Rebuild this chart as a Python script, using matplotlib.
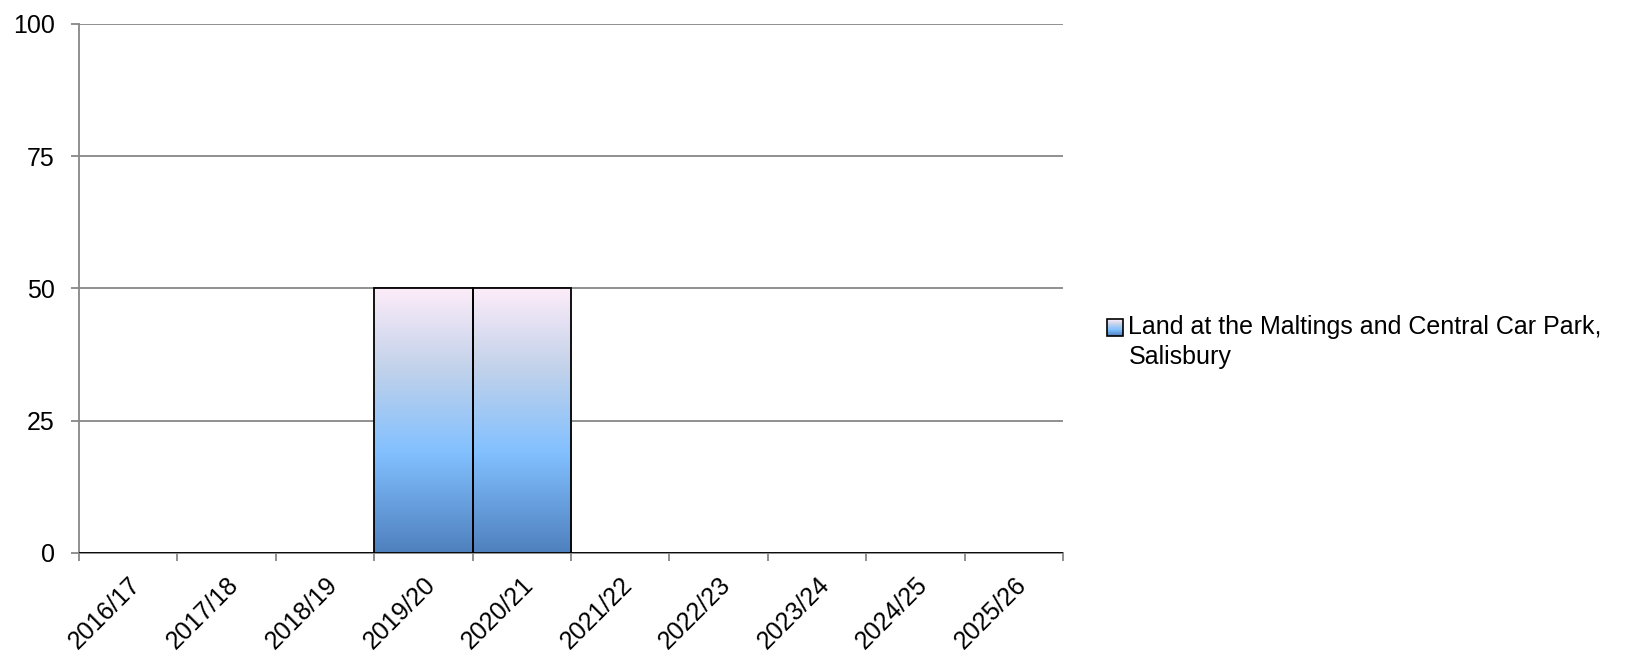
import numpy as np
import matplotlib
matplotlib.use("Agg")
import matplotlib.pyplot as plt
from matplotlib.colors import LinearSegmentedColormap
from matplotlib.patches import Rectangle
from matplotlib.legend_handler import HandlerBase

plt.rcParams['font.family'] = ['Liberation Sans', 'DejaVu Sans']

# Data
years = ["2016/17", "2017/18", "2018/19", "2019/20", "2020/21",
         "2021/22", "2022/23", "2023/24", "2024/25", "2025/26"]
dwellings = [0, 0, 0, 50, 50, 0, 0, 0, 0, 0]
series_name = "Land at the Maltings and Central Car Park,\nSalisbury"
y_ticks = [0, 25, 50, 75, 100]

# Vertical gradient: dark blue at the base, sky blue, fading to pale pink at the top
grad_cmap = LinearSegmentedColormap.from_list(
    "bar_grad",
    [(0.0, "#4f80be"), (0.38, "#82c0ff"), (0.7, "#c2d2ea"), (1.0, "#fdecf9")])

grid_col = "#878787"
DPI = 100
FS = 18
LINESPACING = 1.3
fig = plt.figure(figsize=(16.33, 6.57), dpi=DPI)
ax = fig.add_axes([0.0484, 0.1583, 0.6025, 0.8052])

x = np.arange(len(years))
bars = ax.bar(x, dwellings, width=1.0, facecolor="none", edgecolor="black",
              linewidth=1.3, zorder=3)

grad = np.linspace(0, 1, 256).reshape(-1, 1)
for rect, v in zip(bars, dwellings):
    if v <= 0:
        continue
    x0 = rect.get_x()
    w = rect.get_width()
    im = ax.imshow(grad, cmap=grad_cmap, origin="lower", aspect="auto",
                   extent=(x0, x0 + w, 0, v), zorder=2, interpolation="bilinear")
    im.set_clip_path(rect)

ax.set_xlim(-0.5, len(years) - 0.5)
ax.set_ylim(0, 100)
ax.set_yticks(y_ticks)
ax.set_yticklabels([str(t) for t in y_ticks], fontsize=FS)
ax.yaxis.grid(True, color=grid_col, linewidth=1.3, zorder=0)
ax.set_axisbelow(True)

ax.set_xticks(x)
ax.set_xticklabels(years, fontsize=FS, rotation=45, ha="right", va="top",
                   rotation_mode="anchor")
ax.set_xticks(np.arange(len(years) + 1) - 0.5, minor=True)
ax.tick_params(axis="x", which="major", length=0, pad=14)
ax.tick_params(axis="x", which="minor", length=5.5, width=1.3, color=grid_col,
               direction="out")
ax.tick_params(axis="y", length=5.5, width=1.3, color=grid_col, pad=12)

for side in ("top", "right"):
    ax.spines[side].set_visible(False)
for side in ("left", "bottom"):
    ax.spines[side].set_color(grid_col)
    ax.spines[side].set_linewidth(1.3)


class GradientSquareHandler(HandlerBase):
    """Small gradient-filled square, level with the first line of the label."""

    def create_artists(self, legend, orig_handle, xdescent, ydescent,
                       width, height, fontsize, trans):
        s = height * 0.95
        x0 = -xdescent + width - s
        y0 = -ydescent + (height - s) / 2 + fontsize * 0.62
        n = 24
        arts = []
        for i in range(n):
            c = grad_cmap((i + 0.5) / n)
            arts.append(Rectangle((x0, y0 + s * i / n), s, s / n + 0.3,
                                  facecolor=c, edgecolor="none", transform=trans))
        arts.append(Rectangle((x0, y0), s, s, facecolor="none",
                              edgecolor="black", linewidth=1.2, transform=trans))
        return arts


handle = Rectangle((0, 0), 1, 1)
leg = fig.legend([handle], [series_name], loc="upper left",
                 bbox_to_anchor=(0.668, 0.539), frameon=False, fontsize=FS,
                 handler_map={Rectangle: GradientSquareHandler()},
                 handlelength=0.8, handletextpad=0.2, borderpad=0.0,
                 labelspacing=0.0)
for t in leg.get_texts():
    t.set_linespacing(LINESPACING)

fig.savefig("out.png", dpi=DPI)
